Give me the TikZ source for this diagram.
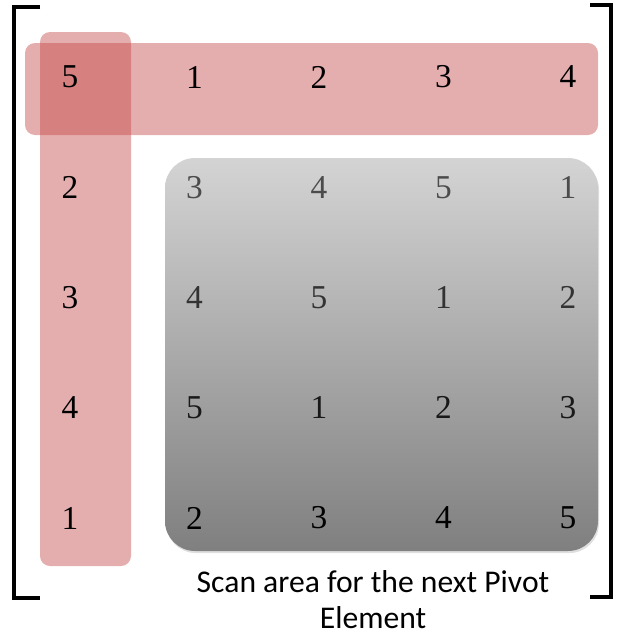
\documentclass[tikz,border=0pt]{standalone}
\usepackage{fontspec}
\setmainfont{Liberation Serif}
\newfontfamily\capfont{Carlito}
\usepackage{tikz}
\usetikzlibrary{shadows}
\definecolor{pivotred}{RGB}{195,68,68}

\begin{document}
\begin{tikzpicture}[x=0.02cm,y=-0.02cm,
  band/.style={fill=pivotred,fill opacity=0.43,rounded corners=0.2cm},
  scanarea/.style={top color=black!17,bottom color=black!50,rounded corners=0.6cm,
    drop shadow={opacity=0.25,shadow xshift=0.6pt,shadow yshift=-1.2pt}},
  bracket/.style={line width=2.2pt},
  entry/.style={font=\fontsize{19}{20}\selectfont,inner sep=0pt}]
\useasboundingbox (0,0) rectangle (624,636);
% scan area and pivot bands
\path[scanarea] (165,158) rectangle (598,551);
\path[band] (25,43) rectangle (598,135);
\path[band] (40,32) rectangle (131,566);
% matrix brackets
\draw[bracket] (40,7)--(14,7)--(14,598)--(40,598);
\draw[bracket] (590,5)--(611,5)--(611,597)--(590,597);
% entries
\foreach \row [count=\i] in {{5,1,2,3,4},{2,3,4,5,1},{3,4,5,1,2},{4,5,1,2,3},{1,2,3,4,5}}
  \foreach \v [count=\j] in \row {
    \pgfmathtruncatemacro\tone{(\i>1 && \j>1) ? 50+10*\i : 100}
    \node[entry,text=black!\tone] (m\i\j) at ({70+124.5*(\j-1)},{77+110.25*(\i-1)}) {\v};
  }
\node[font=\capfont\fontsize{18}{20.5}\selectfont,align=center] (caption) at (373,600)
  {Scan area for the next Pivot\\Element};
\end{tikzpicture}
\end{document}
